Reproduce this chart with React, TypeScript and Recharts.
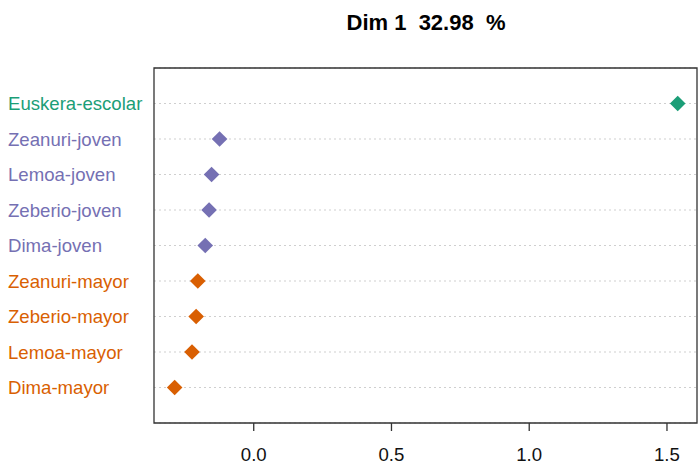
import {
  CartesianGrid,
  ReferenceArea,
  Scatter,
  ScatterChart,
  XAxis,
  YAxis,
  ZAxis,
} from "recharts";

const labels = [
  "Euskera-escolar",
  "Zeanuri-joven",
  "Lemoa-joven",
  "Zeberio-joven",
  "Dima-joven",
  "Zeanuri-mayor",
  "Zeberio-mayor",
  "Lemoa-mayor",
  "Dima-mayor",
];
const groups = ["escolar", "joven", "joven", "joven", "joven", "mayor", "mayor", "mayor", "mayor"];
const dim1 = [1.539, -0.124, -0.153, -0.162, -0.176, -0.203, -0.209, -0.224, -0.287];
const xTicks = [0, 0.5, 1, 1.5];

const groupColors: Record<string, string> = {
  escolar: "#1B9E77",
  joven: "#7570B3",
  mayor: "#D95F02",
};

const X_MIN = -0.362;
const X_MAX = 1.609;
const FONT = "'Liberation Sans', Arial, Helvetica, sans-serif";

const data = labels.map((name, i) => ({
  name,
  row: i + 1,
  value: dim1[i],
  color: groupColors[groups[i]],
}));

function Diamond(props: any) {
  const { cx, cy, payload } = props;
  const h = 7.8;
  return (
    <polygon
      points={`${cx},${cy - h} ${cx + h},${cy} ${cx},${cy + h} ${cx - h},${cy}`}
      fill={payload.color}
    />
  );
}

function RowLabel(props: any) {
  const { y, payload } = props;
  const i = payload.value - 1;
  return (
    <text
      x={8}
      y={y}
      dy="0.35em"
      textAnchor="start"
      fontSize={18.6}
      fontFamily={FONT}
      fill={groupColors[groups[i]]}
    >
      {labels[i]}
    </text>
  );
}

export default function App() {
  return (
    <div style={{ position: "absolute", left: 0, top: 0, width: 699, height: 464, background: "#fff" }}>
      <svg width={699} height={40} style={{ position: "absolute", left: 0, top: 0 }}>
        <text
          x={426}
          y={30}
          textAnchor="middle"
          fontSize={22}
          fontWeight="bold"
          fontFamily={FONT}
          fill="#000"
          style={{ whiteSpace: "pre" }}
        >
          {"Dim 1  32.98  %"}
        </text>
      </svg>
      <ScatterChart
        width={699}
        height={464}
        margin={{ top: 68, right: 2, bottom: 0, left: 0 }}
        style={{ position: "absolute", left: 0, top: 0 }}
      >
        <CartesianGrid
          horizontal={true}
          vertical={false}
          stroke="#cfcfcf"
          strokeDasharray="2 3"
        />
        <ReferenceArea
          x1={X_MIN}
          x2={X_MAX}
          y1={0}
          y2={10}
          fill="none"
          stroke="#333"
          strokeWidth={1.3}
          ifOverflow="visible"
        />
        <XAxis
          type="number"
          dataKey="value"
          domain={[X_MIN, X_MAX]}
          ticks={xTicks}
          allowDataOverflow
          axisLine={false}
          tickLine={{ stroke: "#333", strokeWidth: 1.3 }}
          tickSize={8}
          tickMargin={17}
          height={41}
          tickFormatter={(v: number) => v.toFixed(1)}
          tick={{ fontSize: 18.6, fontFamily: FONT, fill: "#111" }}
        />
        <YAxis
          type="number"
          dataKey="row"
          domain={[0, 10]}
          ticks={[1, 2, 3, 4, 5, 6, 7, 8, 9]}
          reversed
          width={154}
          axisLine={false}
          tickLine={false}
          tick={<RowLabel />}
        />
        <ZAxis range={[100, 100]} />
        <Scatter data={data} shape={<Diamond />} isAnimationActive={false} />
      </ScatterChart>
    </div>
  );
}
